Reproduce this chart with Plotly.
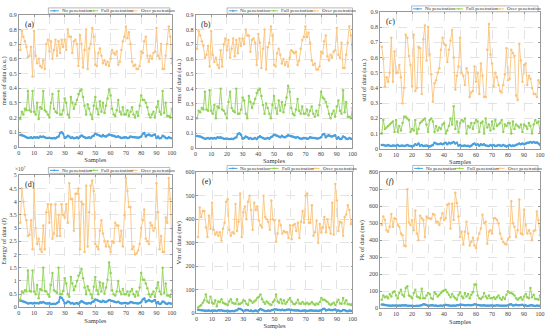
import plotly.graph_objects as go

# ---------------- data ----------------
samples = list(range(1, 101))
series_names = ["No penetration", "Full penetration", "Over penetration"]
panel_labels = ["(a)", "(b)", "(<i>c</i>)", "(d)", "(e)", "(<i>f</i>)"]
y_titles = ["mean of data (a.u.)", "rms of data (a.u.)", "std of data (a.u.)",
            "Energy of data (J)", "Vm of data (mv)", "Pk of data (mv)"]

mean_no = [0.08,0.08,0.075,0.07,0.065,0.06,0.062,0.065,0.06,0.065,0.063,0.065,0.062,0.07,0.068,0.07,0.065,0.06,0.06,0.062,
           0.058,0.058,0.06,0.058,0.065,0.07,0.095,0.1,0.09,0.06,0.065,0.075,0.07,0.06,0.065,0.058,0.06,0.065,0.058,0.07,
           0.078,0.07,0.065,0.06,0.062,0.065,0.06,0.07,0.075,0.09,0.085,0.08,0.075,0.07,0.08,0.072,0.07,0.078,0.085,0.08,
           0.078,0.075,0.07,0.068,0.072,0.065,0.06,0.062,0.065,0.065,0.06,0.062,0.07,0.068,0.065,0.065,0.063,0.062,0.065,0.07,
           0.09,0.095,0.07,0.08,0.085,0.078,0.075,0.08,0.085,0.06,0.07,0.058,0.06,0.075,0.07,0.06,0.058,0.065,0.06,0.058]
mean_full = [0.19,0.24,0.22,0.26,0.25,0.38,0.25,0.24,0.38,0.24,0.22,0.30,0.19,0.27,0.26,0.38,0.25,0.24,0.22,0.20,
             0.30,0.36,0.26,0.24,0.23,0.38,0.22,0.22,0.25,0.33,0.30,0.22,0.20,0.34,0.30,0.26,0.29,0.32,0.36,0.38,
             0.39,0.34,0.28,0.22,0.29,0.26,0.22,0.19,0.28,0.34,0.26,0.22,0.31,0.24,0.30,0.23,0.28,0.33,0.39,0.35,
             0.26,0.22,0.21,0.25,0.32,0.24,0.22,0.27,0.22,0.22,0.25,0.21,0.24,0.27,0.22,0.20,0.24,0.21,0.28,0.35,
             0.32,0.32,0.30,0.27,0.22,0.20,0.22,0.24,0.20,0.27,0.31,0.24,0.22,0.38,0.23,0.30,0.21,0.21,0.20,0.26]
mean_over = [0.66,0.79,0.75,0.72,0.68,0.61,0.62,0.68,0.48,0.79,0.62,0.57,0.60,0.55,0.54,0.59,0.53,0.70,0.73,0.65,
             0.72,0.60,0.66,0.73,0.62,0.72,0.64,0.73,0.68,0.73,0.66,0.80,0.75,0.75,0.64,0.72,0.73,0.70,0.55,0.76,
             0.70,0.54,0.66,0.80,0.53,0.67,0.70,0.81,0.75,0.56,0.55,0.64,0.67,0.62,0.57,0.59,0.56,0.58,0.55,0.60,
             0.66,0.64,0.63,0.65,0.56,0.58,0.66,0.72,0.75,0.82,0.74,0.78,0.70,0.58,0.55,0.56,0.53,0.53,0.55,0.65,
             0.64,0.72,0.75,0.62,0.58,0.62,0.60,0.64,0.65,0.81,0.62,0.60,0.70,0.53,0.53,0.62,0.70,0.82,0.75,0.57]

rms_no = [0.08,0.079,0.076,0.071,0.066,0.061,0.063,0.066,0.061,0.066,0.064,0.066,0.063,0.071,0.069,0.071,0.066,0.061,0.061,0.063,
          0.059,0.059,0.061,0.059,0.066,0.071,0.094,0.098,0.089,0.061,0.066,0.076,0.071,0.061,0.066,0.059,0.061,0.066,0.059,0.071,
          0.079,0.071,0.066,0.061,0.063,0.066,0.061,0.071,0.076,0.089,0.085,0.081,0.076,0.071,0.081,0.073,0.071,0.079,0.086,0.081,
          0.079,0.076,0.071,0.069,0.073,0.066,0.061,0.063,0.066,0.066,0.061,0.063,0.071,0.069,0.066,0.066,0.064,0.063,0.066,0.071,
          0.09,0.094,0.071,0.081,0.085,0.079,0.076,0.081,0.085,0.061,0.071,0.059,0.061,0.076,0.071,0.061,0.059,0.066,0.061,0.059]
rms_full = [0.20,0.25,0.24,0.27,0.26,0.38,0.26,0.25,0.39,0.25,0.23,0.29,0.20,0.28,0.27,0.40,0.26,0.25,0.23,0.20,
            0.31,0.38,0.27,0.25,0.24,0.40,0.23,0.23,0.26,0.34,0.32,0.23,0.20,0.35,0.31,0.27,0.30,0.33,0.37,0.39,
            0.40,0.35,0.29,0.23,0.30,0.27,0.23,0.20,0.29,0.35,0.27,0.23,0.32,0.25,0.31,0.24,0.29,0.34,0.42,0.38,
            0.27,0.23,0.22,0.26,0.33,0.25,0.23,0.28,0.23,0.23,0.26,0.22,0.25,0.28,0.23,0.21,0.25,0.22,0.29,0.38,
            0.34,0.33,0.31,0.28,0.23,0.20,0.23,0.25,0.21,0.28,0.32,0.25,0.23,0.39,0.24,0.31,0.21,0.21,0.20,0.27]
rms_over = [0.67,0.79,0.76,0.72,0.69,0.61,0.63,0.69,0.55,0.79,0.63,0.58,0.61,0.56,0.54,0.66,0.55,0.70,0.74,0.66,
            0.73,0.61,0.67,0.74,0.62,0.73,0.64,0.74,0.69,0.74,0.70,0.80,0.76,0.76,0.65,0.73,0.74,0.71,0.56,0.77,
            0.71,0.54,0.67,0.80,0.53,0.68,0.71,0.82,0.76,0.56,0.55,0.64,0.67,0.63,0.57,0.60,0.56,0.58,0.55,0.61,
            0.66,0.65,0.64,0.65,0.56,0.59,0.67,0.73,0.75,0.82,0.75,0.78,0.71,0.59,0.56,0.57,0.53,0.53,0.55,0.65,
            0.64,0.72,0.76,0.62,0.59,0.63,0.61,0.65,0.66,0.81,0.63,0.61,0.71,0.54,0.54,0.63,0.71,0.82,0.76,0.59]

std_no = [0.025,0.025,0.022,0.02,0.025,0.02,0.018,0.022,0.02,0.02,0.025,0.018,0.02,0.022,0.018,0.02,0.025,0.02,0.018,0.015,
          0.02,0.03,0.025,0.035,0.02,0.025,0.018,0.02,0.022,0.018,0.015,0.02,0.025,0.04,0.035,0.03,0.032,0.035,0.03,0.035,
          0.04,0.03,0.04,0.035,0.04,0.045,0.035,0.04,0.02,0.025,0.018,0.02,0.022,0.018,0.02,0.015,0.02,0.03,0.035,0.025,
          0.03,0.02,0.03,0.025,0.03,0.022,0.02,0.018,0.025,0.02,0.025,0.018,0.02,0.025,0.022,0.02,0.025,0.02,0.015,0.02,
          0.025,0.018,0.022,0.02,0.025,0.03,0.035,0.03,0.035,0.03,0.035,0.04,0.04,0.045,0.04,0.045,0.04,0.042,0.035,0.025]
std_full = [0.10,0.19,0.13,0.14,0.15,0.16,0.17,0.18,0.11,0.19,0.11,0.15,0.12,0.17,0.21,0.21,0.20,0.19,0.11,0.13,
            0.12,0.19,0.10,0.13,0.17,0.18,0.19,0.20,0.16,0.11,0.19,0.20,0.18,0.11,0.15,0.12,0.14,0.13,0.16,0.17,
            0.10,0.12,0.15,0.20,0.16,0.28,0.13,0.18,0.11,0.17,0.19,0.18,0.20,0.10,0.15,0.14,0.17,0.13,0.17,0.19,
            0.18,0.11,0.17,0.18,0.10,0.20,0.14,0.16,0.12,0.18,0.13,0.19,0.15,0.16,0.17,0.19,0.11,0.16,0.15,0.17,
            0.17,0.10,0.18,0.13,0.16,0.15,0.14,0.16,0.11,0.16,0.15,0.13,0.17,0.15,0.10,0.16,0.19,0.17,0.18,0.11]
std_over = [0.67,0.59,0.41,0.47,0.44,0.50,0.73,0.44,0.64,0.50,0.50,0.55,0.47,0.30,0.40,0.75,0.73,0.61,0.55,0.41,
            0.75,0.38,0.40,0.67,0.66,0.36,0.72,0.81,0.58,0.80,0.62,0.49,0.31,0.43,0.45,0.50,0.53,0.65,0.73,0.69,
            0.68,0.57,0.65,0.71,0.78,0.60,0.39,0.48,0.54,0.73,0.50,0.48,0.42,0.53,0.50,0.34,0.37,0.38,0.54,0.44,
            0.50,0.36,0.56,0.48,0.34,0.34,0.65,0.82,0.62,0.56,0.41,0.50,0.47,0.42,0.38,0.37,0.42,0.49,0.66,0.45,
            0.46,0.65,0.63,0.61,0.35,0.32,0.69,0.58,0.44,0.55,0.56,0.42,0.48,0.46,0.40,0.36,0.36,0.34,0.45,0.43]

# energy in units of 1e7 J
energy_no = [0.25,0.24,0.22,0.2,0.18,0.15,0.16,0.17,0.15,0.17,0.16,0.17,0.15,0.19,0.18,0.2,0.17,0.15,0.15,0.16,
             0.13,0.13,0.14,0.13,0.17,0.2,0.38,0.36,0.28,0.15,0.17,0.22,0.2,0.15,0.17,0.13,0.15,0.17,0.13,0.19,
             0.24,0.2,0.17,0.15,0.15,0.17,0.15,0.2,0.22,0.3,0.28,0.25,0.22,0.2,0.25,0.21,0.2,0.24,0.28,0.26,
             0.24,0.22,0.2,0.19,0.21,0.17,0.15,0.16,0.17,0.17,0.15,0.16,0.2,0.19,0.17,0.17,0.16,0.15,0.17,0.2,
             0.3,0.34,0.2,0.24,0.28,0.24,0.22,0.25,0.28,0.15,0.2,0.13,0.15,0.22,0.2,0.15,0.13,0.17,0.15,0.14]
energy_full = [0.3,0.6,0.55,0.65,0.6,1.4,0.62,0.6,1.4,0.6,0.5,0.85,0.35,0.7,0.65,1.5,0.62,0.6,0.5,0.4,
               0.85,1.3,0.65,0.6,0.55,1.5,0.5,0.5,0.62,1.1,0.9,0.5,0.4,1.15,0.9,0.65,0.8,1.0,1.2,1.3,
               1.45,1.1,0.75,0.5,0.8,0.65,0.5,0.35,0.78,1.15,0.65,0.5,0.95,0.6,0.9,0.52,0.75,1.05,1.7,1.3,
               0.65,0.5,0.45,0.6,1.0,0.6,0.5,0.7,0.5,0.5,0.6,0.45,0.6,0.7,0.5,0.4,0.6,0.45,0.75,1.3,
               1.05,1.05,0.9,0.72,0.5,0.4,0.5,0.6,0.4,0.72,0.95,0.6,0.5,1.5,0.55,0.9,0.45,0.45,0.4,0.65]
energy_over = [3.2,4.5,4.0,3.5,3.3,2.7,2.75,3.3,2.2,4.5,3.0,2.4,2.6,2.2,2.1,3.1,2.2,3.6,3.9,3.2,
               3.9,2.6,2.8,3.9,2.7,3.5,2.7,3.9,3.5,3.4,3.9,3.2,4.7,4.1,4.1,2.9,4.3,4.3,4.5,2.2,
               4.0,3.9,2.1,4.6,2.3,3.6,4.6,4.8,4.4,2.4,2.3,2.2,2.9,3.3,2.8,2.5,2.3,2.5,2.3,2.1,
               2.5,2.45,3.2,3.1,3.1,2.5,2.9,2.3,3.5,4.9,4.4,3.8,3.8,2.2,2.3,2.0,2.05,2.15,2.4,3.0,
               3.3,3.7,2.6,2.5,2.4,3.2,3.1,2.9,3.0,4.7,3.6,2.2,2.7,2.1,2.1,3.4,3.2,4.9,4.1,2.5]

vm_no = [15,14,13,12,11,10,11,12,10,12,11,12,10,13,12,13,11,10,10,11,
         9,9,10,9,12,13,19,18,15,10,12,14,13,10,12,9,10,12,9,13,
         18,15,12,10,10,12,10,13,14,17,16,15,14,13,15,13,13,15,16,15,
         14,13,12,12,13,11,10,11,12,12,10,11,13,12,11,11,11,10,11,13,
         18,19,12,14,16,14,13,15,16,10,13,9,10,14,13,10,9,12,10,10]
vm_full = [25,30,35,45,55,80,50,45,70,45,40,55,30,50,48,60,45,42,38,35,
           50,60,45,42,40,60,38,40,45,55,52,40,35,58,52,45,50,55,65,70,
           80,60,48,40,50,45,38,35,48,55,80,50,45,60,42,55,40,48,58,65,
           50,40,38,45,58,42,40,48,40,40,45,38,42,48,40,35,42,38,48,65,
           58,58,52,48,40,35,40,45,35,48,58,42,40,65,42,55,38,38,35,42]
vm_over = [325,450,410,435,435,365,325,415,360,470,355,335,345,330,345,310,360,385,475,485,
           355,330,345,340,465,350,390,510,325,430,455,400,475,500,440,355,470,440,455,395,
           375,365,500,410,400,390,355,480,400,395,305,340,395,375,340,350,345,345,320,375,
           315,375,380,350,385,320,390,435,385,500,510,385,385,460,330,345,395,300,380,345,
           365,410,345,400,365,340,470,335,550,480,350,390,385,330,410,420,460,440,380,390]

pk_no = [22,22,20,18,17,15,16,17,15,17,16,17,15,18,17,18,16,15,15,16,
         14,14,15,14,17,18,24,23,20,15,17,19,18,15,17,14,15,17,14,18,
         21,19,17,15,15,17,15,18,19,22,21,20,19,18,20,18,18,20,24,22,
         20,19,17,17,18,16,15,16,17,17,15,16,18,17,16,16,16,15,16,18,
         22,24,17,19,21,19,18,20,21,15,18,14,15,19,18,15,14,17,15,15]
pk_full = [50,75,65,70,60,85,70,95,100,75,60,90,110,80,70,120,130,75,70,60,
           90,110,70,65,60,115,60,60,75,90,85,60,55,95,85,70,80,90,100,105,
           110,95,80,65,85,70,60,50,80,95,70,60,90,70,85,60,80,95,140,140,
           75,60,55,65,90,70,60,75,60,60,65,55,65,75,60,50,65,55,80,100,
           90,90,85,75,60,50,60,65,50,70,85,65,60,120,65,80,55,55,50,75]
pk_over = [490,540,520,460,450,480,555,480,530,525,490,480,440,430,370,365,700,505,490,520,
           460,575,440,400,545,530,520,420,540,530,530,525,555,550,510,510,490,530,560,520,
           530,610,615,470,615,520,680,620,540,420,450,375,450,510,440,370,390,415,370,355,
           410,440,470,550,500,510,380,450,460,440,530,530,520,500,440,410,390,380,375,410,
           420,630,500,480,420,460,640,440,435,580,490,440,460,440,400,455,460,570,520,430]

y_ranges = [[0, 0.9], [0, 0.9], [0, 0.9], [0, 5], [0, 600], [0, 800]]
y_dticks = [0.1, 0.1, 0.1, 0.5, 100, 100]

panels = [
    (mean_no, mean_full, mean_over),
    (rms_no, rms_full, rms_over),
    (std_no, std_full, std_over),
    (energy_no, energy_full, energy_over),
    (vm_no, vm_full, vm_over),
    (pk_no, pk_full, pk_over),
]

# ---------------- styling / layout ----------------
W, H = 550, 329
colors = ["#4aa0dc", "#92d25a", "#fbc47c"]
widths = [1.6, 0.9, 0.9]
msizes = [2.5, 2.5, 2.5]
FONT = "Liberation Serif"

# plot area boxes in pixels: (left, right, top, bottom)
boxes = [(17, 172, 12, 147), (196, 355, 12, 148), (383, 545, 9, 149),
         (17, 172, 176, 311), (197, 355, 173, 317), (383, 545, 173, 312)]
# legend boxes in pixels: (left, right, top, bottom)
leg_boxes = [(47, 170, 5, 11), (228, 355, 5, 11), (415, 543, 3, 9),
             (47, 170, 168, 174), (228, 356, 166, 172), (416, 543, 166, 172)]

def px(x):
    return x / W

def py(y):
    return 1 - y / H

fig = go.Figure()
layout = dict(width=W, height=H, margin=dict(l=0, r=0, t=0, b=0),
              paper_bgcolor="white", plot_bgcolor="white",
              font=dict(family=FONT, size=6, color="#333"), showlegend=False)
shapes = []
annotations = []

for i, (data, box) in enumerate(zip(panels, boxes)):
    n = "" if i == 0 else str(i + 1)
    xa, ya = "x" + n, "y" + n
    for j, ys in enumerate(data):
        fig.add_trace(go.Scatter(
            x=samples[:len(ys)], y=ys, mode="lines+markers", name=series_names[j],
            xaxis=xa, yaxis=ya,
            line=dict(color=colors[j], width=widths[j]),
            marker=dict(color=colors[j], size=msizes[j], symbol="circle"),
        ))
    l, r, t, b = box
    axcommon = dict(showline=True, linecolor="#999", linewidth=0.8, mirror="ticks",
                    ticks="inside", ticklen=2, tickcolor="#999",
                    showgrid=True, gridcolor="#e3e3e3", griddash="dash", gridwidth=0.6,
                    zeroline=False, tickfont=dict(family=FONT, size=6, color="#444"))
    layout["xaxis" + n] = dict(axcommon, domain=[px(l), px(r)], range=[0, 100], dtick=10,
                               anchor=ya,
                               title=dict(text="Samples", font=dict(family=FONT, size=6.5), standoff=2))
    layout["yaxis" + n] = dict(axcommon, domain=[py(b), py(t)], range=y_ranges[i], dtick=y_dticks[i],
                               anchor=xa,
                               title=dict(text=y_titles[i], font=dict(family=FONT, size=6.5), standoff=3))
    # panel label
    annotations.append(dict(text=panel_labels[i], x=px(l + 4), y=py(t + 3), xref="paper", yref="paper",
                            xanchor="left", yanchor="top", showarrow=False,
                            font=dict(family=FONT, size=8, color="#222")))
    # legend drawn manually
    ll, lr, lt, lb = leg_boxes[i]
    shapes.append(dict(type="rect", xref="paper", yref="paper", x0=px(ll), x1=px(lr), y0=py(lb), y1=py(lt),
                       line=dict(color="#888", width=0.6), fillcolor="white", layer="above"))
    lw = lr - ll
    ymid = (lt + lb) / 2
    for j in range(3):
        x0 = ll + 1.5 + j * lw * 0.325
        shapes.append(dict(type="line", xref="paper", yref="paper", x0=px(x0), x1=px(x0 + 9),
                           y0=py(ymid), y1=py(ymid), line=dict(color=colors[j], width=1), layer="above"))
        shapes.append(dict(type="circle", xref="paper", yref="paper", x0=px(x0 + 3.8), x1=px(x0 + 5.2),
                           y0=py(ymid + 0.7), y1=py(ymid - 0.7), line=dict(color=colors[j], width=0.6),
                           fillcolor=colors[j], layer="above"))
        annotations.append(dict(text=series_names[j], x=px(x0 + 10), y=py(ymid), xref="paper", yref="paper",
                                xanchor="left", yanchor="middle", showarrow=False,
                                font=dict(family=FONT, size=5, color="#333")))

# exponent label for energy panel
annotations.append(dict(text="×10<sup>7</sup>", x=px(11), y=py(170), xref="paper", yref="paper",
                        xanchor="left", yanchor="middle", showarrow=False,
                        font=dict(family=FONT, size=5.5, color="#444")))

layout["shapes"] = shapes
layout["annotations"] = annotations
fig.update_layout(**layout)
fig.write_html("out.html", config={"displayModeBar": False},
               post_script="document.body.style.margin='0';document.body.style.padding='0';")
